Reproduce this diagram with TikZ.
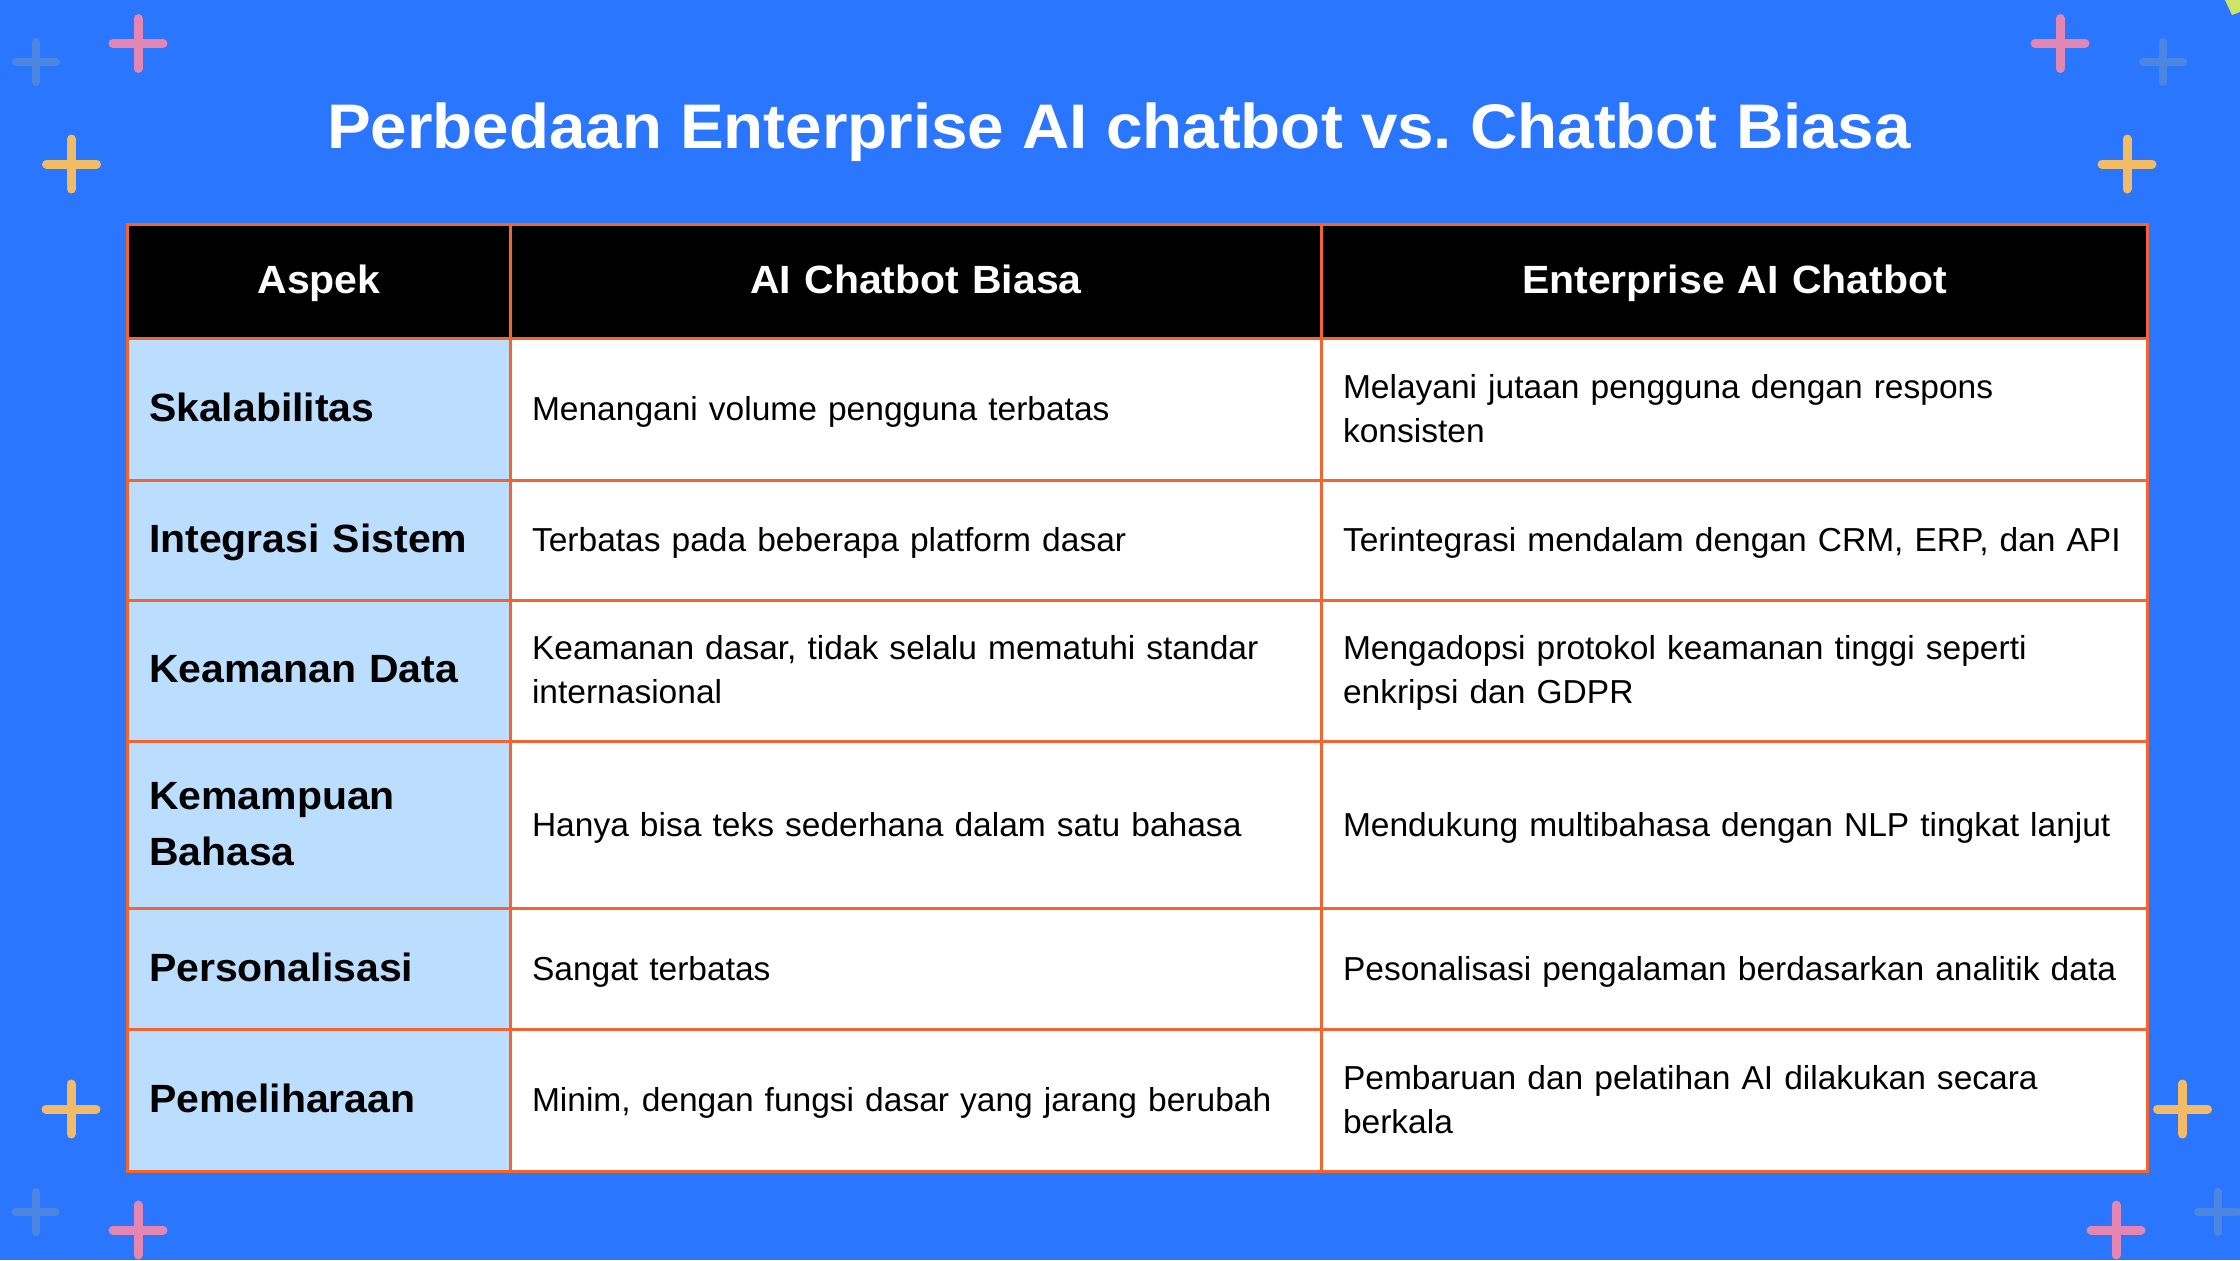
\documentclass[tikz,border=0pt]{standalone}
\usepackage{fontspec}
\setmainfont{Liberation Sans}
\newfontfamily\bodyfont[FakeStretch=1.01]{Liberation Sans}
\newfontfamily\boldfont[FakeStretch=1.04,UprightFont=* Bold]{Liberation Sans}
\frenchspacing
\usetikzlibrary{positioning}
\definecolor{pagebg}{HTML}{2B76FF}
\definecolor{gridline}{HTML}{F26430}
\definecolor{labelbg}{HTML}{BBDEFF}
\definecolor{pinkmark}{HTML}{E386B2}
\definecolor{yellowmark}{HTML}{F2BC66}
\definecolor{fadedmark}{HTML}{4D86E0}
\definecolor{cornerbit}{HTML}{CDE36A}
\newcommand{\isistrut}{\rule[-5pt]{0pt}{21pt}}
\newcommand{\aspekstrut}{\rule[-8pt]{0pt}{28pt}}

\begin{document}
\begin{tikzpicture}[
  x=0.5pt, y=-0.5pt,
  node distance=0pt,
  cell/.style={draw=gridline, line width=1.5pt, outer sep=0pt, inner ysep=0pt,
    inner xsep=10.75pt, align=left},
  head/.style={cell, fill=black, text=white, align=center, minimum height=57.25pt,
    font=\boldfont\fontsize{19.7}{28}\selectfont,
    execute at begin node=\aspekstrut, execute at end node=\aspekstrut},
  aspek/.style={cell, fill=labelbg, text width=170pt, minimum width=191.5pt,
    font=\boldfont\fontsize{19.7}{28}\selectfont,
    execute at begin node=\aspekstrut, execute at end node=\aspekstrut},
  isi/.style={cell, fill=white, font=\bodyfont\fontsize{16.6}{22}\selectfont,
    execute at begin node=\isistrut, execute at end node=\isistrut},
  colb/.style={text width=384pt, minimum width=405.5pt},
  colc/.style={text width=391.5pt, minimum width=413pt},
  crossline/.style={line width=4.5pt, line cap=round},
  plus/.pic={
    \draw[crossline, pic actions] (-25,0) -- (25,0);
    \draw[crossline, pic actions] (0,-25) -- (0,25);
  },
  plussmall/.pic={
    \draw[crossline, line width=4pt, pic actions] (-20,0) -- (20,0);
    \draw[crossline, line width=4pt, pic actions] (0,-20) -- (0,20);
  }
]
  \useasboundingbox (0,0) rectangle (2240,1260);
  \fill[pagebg] (0,0) rectangle (2240,1260);
  \fill[cornerbit] (2225,0) -- (2232,15) -- (2240,12) -- (2240,0) -- cycle;

  \pic[fadedmark] at (36,62) {plussmall};
  \pic[pinkmark] at (138,43.5) {plus};
  \pic[yellowmark] at (71.5,164) {plus};
  \pic[pinkmark] at (2060,43.5) {plus};
  \pic[fadedmark] at (2163,62) {plussmall};
  \pic[yellowmark] at (2127,164) {plus};
  \pic[yellowmark] at (71,1109) {plus};
  \pic[fadedmark] at (35.5,1212) {plussmall};
  \pic[pinkmark] at (138,1230) {plus};
  \pic[yellowmark] at (2182.5,1109) {plus};
  \pic[pinkmark] at (2116,1230) {plus};
  \pic[fadedmark] at (2218,1212) {plussmall};

  \node[font=\boldfont\fontsize{31.5}{40}\selectfont, text=white, anchor=base] (title) at (1119,148)
    {Perbedaan Enterprise AI chatbot vs. Chatbot Biasa};

  % header row
  \node[head, text width=170pt, minimum width=191.5pt, anchor=north west] (hAspek) at (127.5,224) {Aspek};
  \node[head, colb, right=of hAspek] (hBiasa) {AI Chatbot Biasa};
  \node[head, colc, right=of hBiasa] (hEnterprise) {Enterprise AI Chatbot};

  % rows
  \node[aspek, minimum height=70.75pt, below=of hAspek] (skala) {Skalabilitas};
  \node[isi, colb, minimum height=70.75pt, right=of skala] (skalaB) {Menangani volume pengguna terbatas};
  \node[isi, colc, minimum height=70.75pt, right=of skalaB] (skalaE) {Melayani jutaan pengguna dengan respons\\konsisten};

  \node[aspek, minimum height=60pt, below=of skala] (integrasi) {Integrasi Sistem};
  \node[isi, colb, minimum height=60pt, right=of integrasi] (integrasiB) {Terbatas pada beberapa platform dasar};
  \node[isi, colc, minimum height=60pt, right=of integrasiB] (integrasiE) {Terintegrasi mendalam dengan CRM, ERP, dan API};

  \node[aspek, minimum height=70.75pt, below=of integrasi] (keamanan) {Keamanan Data};
  \node[isi, colb, minimum height=70.75pt, right=of keamanan] (keamananB) {Keamanan dasar, tidak selalu mematuhi standar\\internasional};
  \node[isi, colc, minimum height=70.75pt, right=of keamananB] (keamananE) {Mengadopsi protokol keamanan tinggi seperti\\enkripsi dan GDPR};

  \node[aspek, minimum height=83.5pt, below=of keamanan] (bahasa) {Kemampuan\\Bahasa};
  \node[isi, colb, minimum height=83.5pt, right=of bahasa] (bahasaB) {Hanya bisa teks sederhana dalam satu bahasa};
  \node[isi, colc, minimum height=83.5pt, right=of bahasaB] (bahasaE) {Mendukung multibahasa dengan NLP tingkat lanjut};

  \node[aspek, minimum height=60.5pt, below=of bahasa] (personal) {Personalisasi};
  \node[isi, colb, minimum height=60.5pt, right=of personal] (personalB) {Sangat terbatas};
  \node[isi, colc, minimum height=60.5pt, right=of personalB] (personalE) {Pesonalisasi pengalaman berdasarkan analitik data};

  \node[aspek, minimum height=70.75pt, below=of personal] (pelihara) {Pemeliharaan};
  \node[isi, colb, minimum height=70.75pt, right=of pelihara] (peliharaB) {Minim, dengan fungsi dasar yang jarang berubah};
  \node[isi, colc, minimum height=70.75pt, right=of peliharaB] (peliharaE) {Pembaruan dan pelatihan AI dilakukan secara\\berkala};
\end{tikzpicture}
\end{document}
